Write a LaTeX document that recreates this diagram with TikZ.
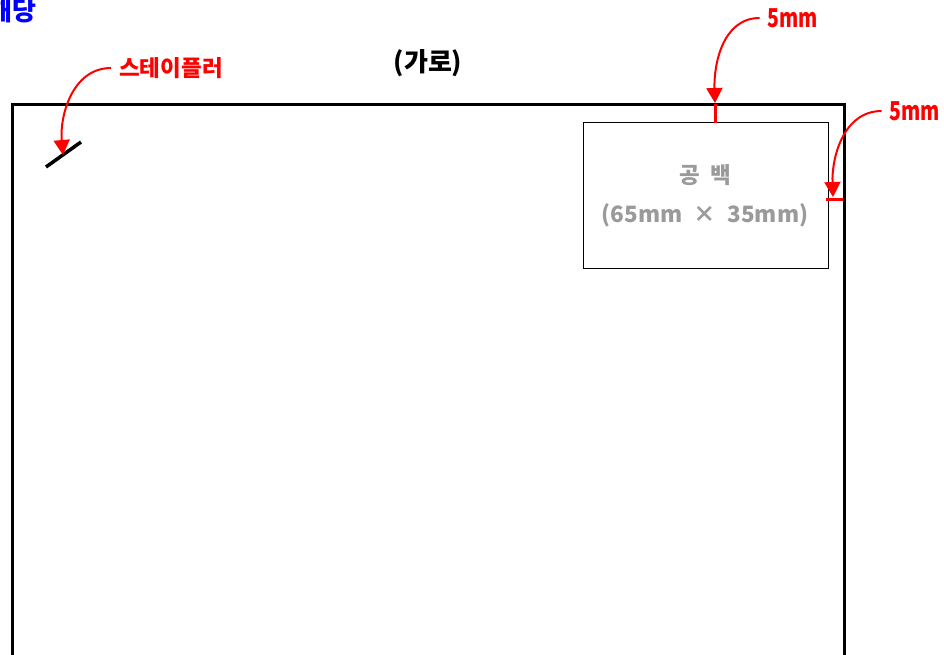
\documentclass[tikz,border=0pt]{standalone}
\usepackage{fontspec}
\setmainfont{Noto Sans CJK KR}
\usetikzlibrary{arrows.meta}
\definecolor{lblred}{RGB}{255,0,0}
\definecolor{lblblue}{RGB}{0,0,255}
\definecolor{blankgray}{RGB}{154,154,154}
\tikzset{
  redlbl/.style={text=lblred, font=\bfseries\fontsize{20}{22}\selectfont, inner sep=0pt, inner xsep=8pt},
  mmlbl/.style={text=lblred, font=\bfseries\fontsize{26}{28}\selectfont, inner sep=0pt, inner xsep=8pt},
  redarrow/.style={draw=lblred, line width=2pt, -{Triangle[length=15pt,width=16pt]}},
  redtick/.style={draw=lblred, line width=3pt},
  graytxt/.style={text=blankgray, font=\bfseries\fontsize{22.5}{24}\selectfont, inner sep=0pt}
}
\begin{document}
\begin{tikzpicture}[x=1pt, y=-1pt]
\useasboundingbox (0,0) rectangle (944,654);
% title (clipped at left)
\node[text=lblblue, font=\bfseries\fontsize{26}{28}\selectfont, anchor=east, inner sep=0pt] (title) at (37,11) {해당};
% heading
\node[font=\bfseries\fontsize{26}{28}\selectfont, inner sep=0pt] (garo) at (428,63) {(가로)};
% main sheet
\draw[line width=3pt] (12.5,104) rectangle (844.5,664);
% stapler
\coordinate (st1) at (46,167);
\coordinate (st2) at (81,142);
\draw[line width=3.5pt] (st1) -- (st2);
\node[redlbl, font=\bfseries\fontsize{22.5}{24}\selectfont] (stlbl) at (171,68) {스테이플러};
\coordinate (sttip) at (63,155);
\draw[redarrow] (stlbl.west) to[out=180,in=95] (sttip);
% blank box
\node[draw, line width=1pt, minimum width=245pt, minimum height=146.5pt, anchor=north west, inner sep=0pt] (blank) at (582.5,121.5) {};
\node[graytxt] (blank1) at (705,175) {공\hspace{0.45em}백};
\node[graytxt] (blank2) at (705,215) {(65mm\hspace{0.5em}×\hspace{0.5em}35mm)};
% top margin marker
\coordinate (tt1) at (715,104);
\coordinate (tt2) at (715,122.5);
\draw[redtick] (tt1) -- (tt2);
\node[mmlbl] (m1) at (793,18) {\scalebox{0.75}[1]{5mm}};
\coordinate (m1tip) at (715,103);
\draw[redarrow] (m1.west) to[out=180,in=92] (m1tip);
% right margin marker
\coordinate (rt1) at (826,199);
\coordinate (rt2) at (843,199);
\draw[redtick] (rt1) -- (rt2);
\node[mmlbl] (m2) at (915,111) {\scalebox{0.75}[1]{5mm}};
\coordinate (m2tip) at (833,197);
\draw[redarrow] (m2.west) to[out=180,in=92] (m2tip);
\end{tikzpicture}
\end{document}
